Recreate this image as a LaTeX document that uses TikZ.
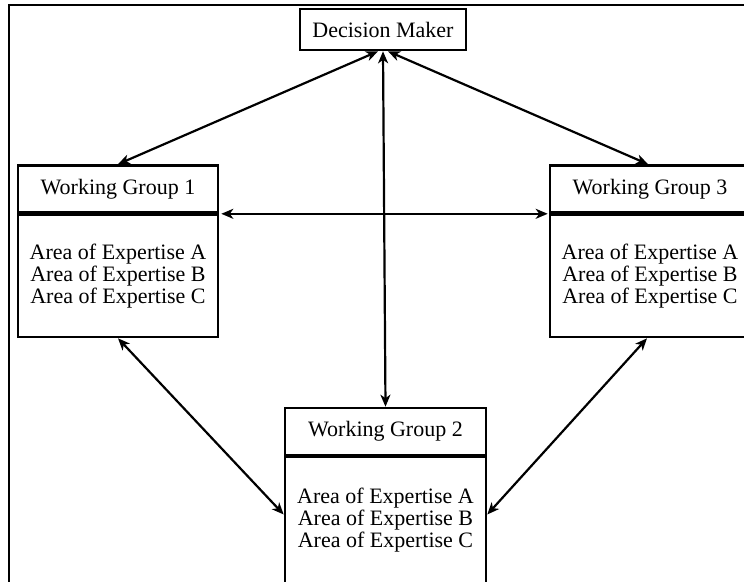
\documentclass[tikz,border=0pt]{standalone}
\usepackage{fontspec}
\setmainfont{Liberation Serif}
\usetikzlibrary{arrows.meta}
\begin{document}
\begin{tikzpicture}[x=1pt,y=-1pt,
  box/.style={draw, line width=2.6pt, inner sep=0pt, align=center,
    font=\fontsize{22}{22}\selectfont},
  head/.style={box, minimum width=200pt, minimum height=47pt},
  arr/.style={line width=2.2pt,
    {Stealth[length=12pt,width=10pt,inset=3.5pt]}-{Stealth[length=12pt,width=10pt,inset=3.5pt]}}
  ]
\clip (0,0) rectangle (744,581);
\fill[white] (0,0) rectangle (744,581);
% frame
\draw[line width=2.6pt] (9,600) -- (9,5) -- (760,5);
% decision maker
\node[box, minimum width=166pt, minimum height=41pt] (dm) at (383,29.5) {Decision Maker};
% working group 1
\node[head] (wg1h) at (118,189) {Working Group 1};
\node[box, minimum width=200pt, minimum height=122pt] (wg1b) at (118,276)
  {Area of Expertise A\\Area of Expertise B\\Area of Expertise C};
% working group 3
\node[head] (wg3h) at (650,189) {Working Group 3};
\node[box, minimum width=200pt, minimum height=122pt] (wg3b) at (650,276)
  {Area of Expertise A\\Area of Expertise B\\Area of Expertise C};
% working group 2
\node[head, minimum width=201pt] (wg2h) at (385.5,431.5) {Working Group 2};
\node[box, minimum width=201pt, minimum height=127pt] (wg2b) at (385.5,520.5)
  {Area of Expertise A\\Area of Expertise B\\Area of Expertise C};
% connectors
\draw[arr] ([xshift=-5pt]dm.south) -- (wg1h.north);
\draw[arr] ([xshift=5pt]dm.south) -- ([xshift=-2pt]wg3h.north);
\draw[arr] (dm.south) -- (wg2h.north);
\draw[arr] ([xshift=2pt]wg1h.south east) -- ([xshift=-1pt]wg3h.south west);
\draw[arr] (wg1b.south) -- ([yshift=6pt]wg2b.west);
\draw[arr] ([xshift=-3pt]wg3b.south) -- ([yshift=6pt]wg2b.east);
\end{tikzpicture}
\end{document}
